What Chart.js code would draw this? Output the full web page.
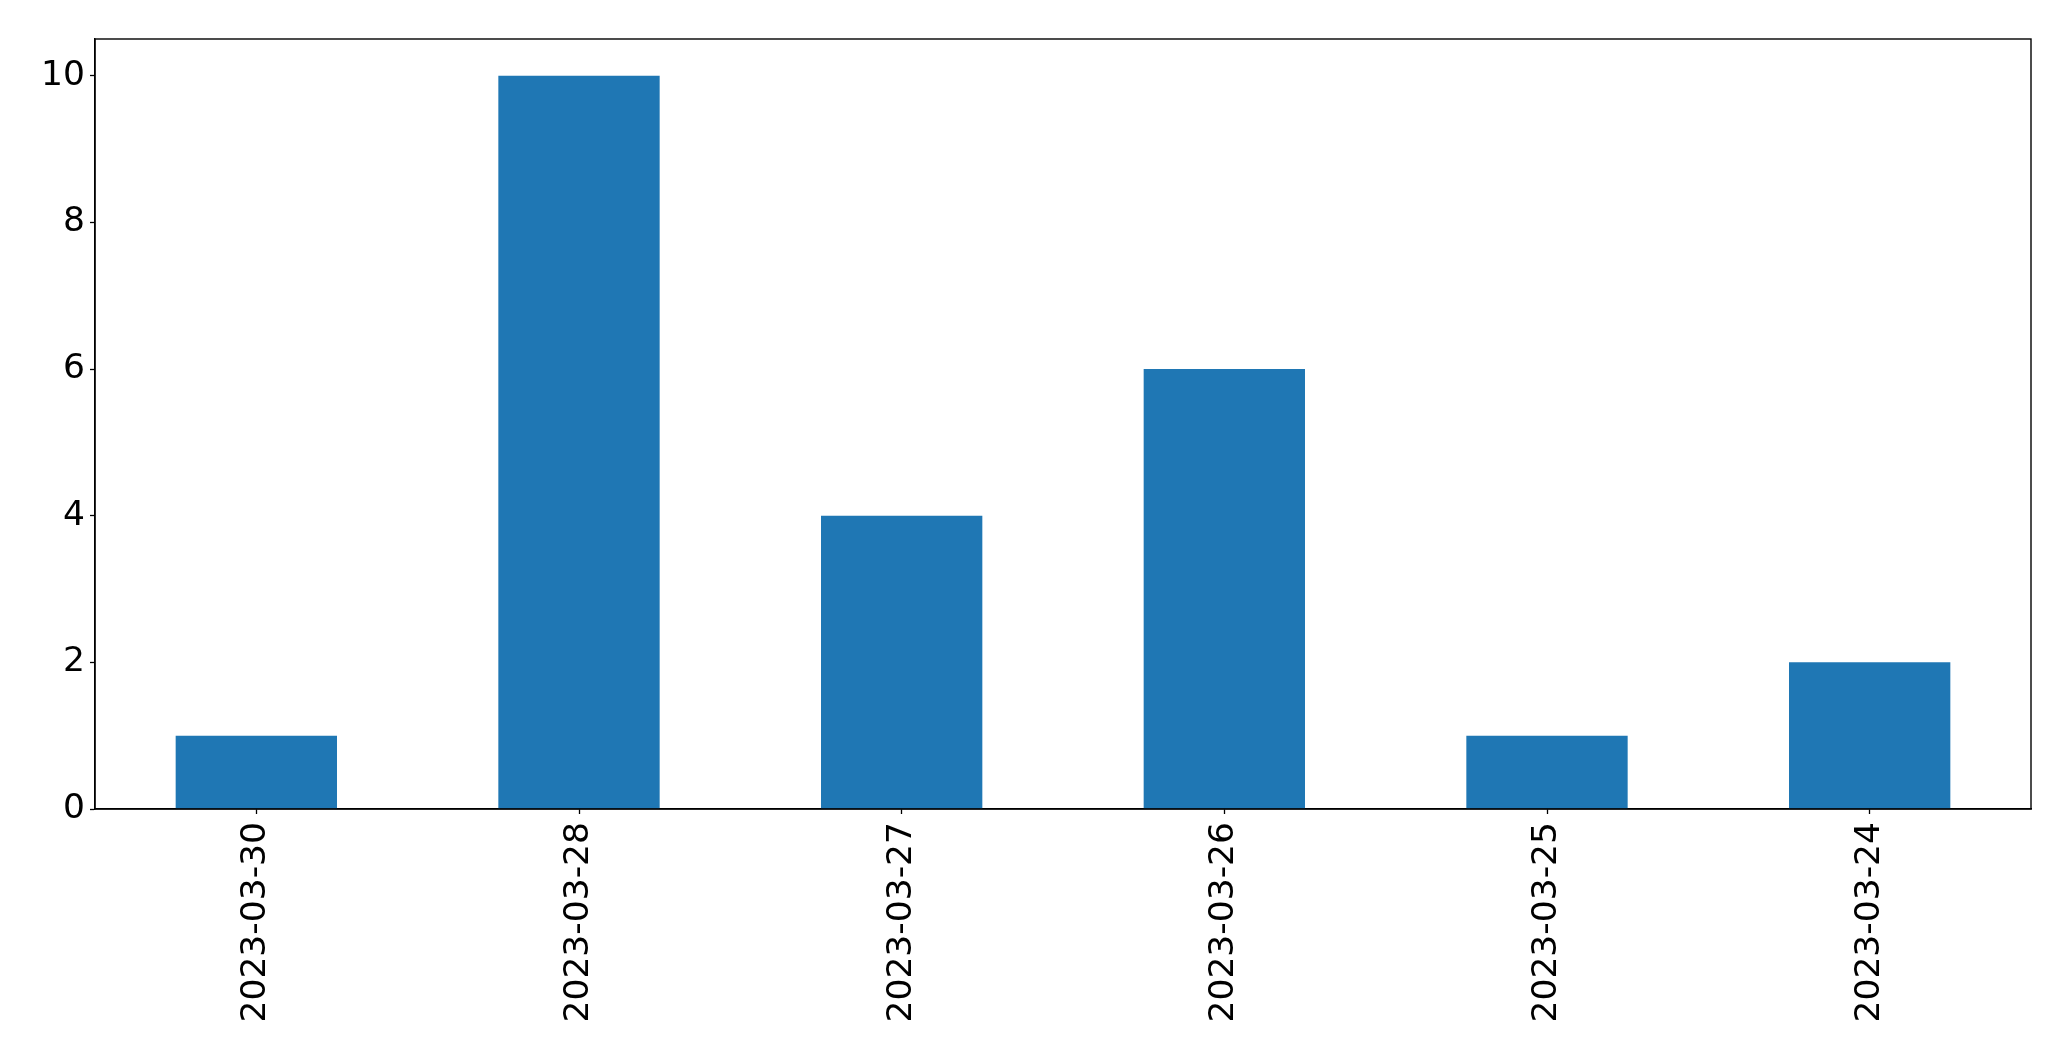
<!DOCTYPE html>
<html>
<head>
<meta charset="utf-8">
<script src="https://cdn.jsdelivr.net/npm/chart.js@4/dist/chart.umd.min.js"></script>
<style>
html,body{margin:0;padding:0;background:#fff;}
canvas{display:block;}
</style>
</head>
<body>
<canvas id="c" width="2071" height="1061"></canvas>
<script>
const categories = ["2023-03-30", "2023-03-28", "2023-03-27", "2023-03-26", "2023-03-25", "2023-03-24"];
const counts = [1, 10, 4, 6, 1, 2];
const yTicks = [0, 2, 4, 6, 8, 10];

const frame = {
  id: 'frame',
  afterDraw(chart) {
    const a = chart.chartArea, ctx = chart.ctx;
    ctx.save();
    ctx.strokeStyle = '#000';
    ctx.lineWidth = 1.4;
    ctx.strokeRect(a.left, a.top, a.right - a.left, a.bottom - a.top);
    ctx.restore();
  }
};

new Chart(document.getElementById('c'), {
  type: 'bar',
  data: {
    labels: categories,
    datasets: [{
      data: counts,
      backgroundColor: '#1f77b4',
      borderWidth: 0,
      barPercentage: 0.5,
      categoryPercentage: 1.0
    }]
  },
  options: {
    responsive: false,
    animation: false,
    devicePixelRatio: 1,
    layout: { padding: { left: 0, top: 39, right: 40, bottom: 0 } },
    plugins: { legend: { display: false }, tooltip: { enabled: false } },
    scales: {
      x: {
        offset: true,
        grid: { display: true, drawOnChartArea: false, tickLength: 5, tickColor: '#000', tickWidth: 1.3, offset: false },
        border: { display: true, color: '#000', width: 1.4 },
        ticks: {
          color: '#000',
          font: { family: 'DejaVu Sans', size: 34.5 },
          minRotation: 90, maxRotation: 90,
          padding: 8,
          autoSkip: false
        },
        afterFit(s) { s.height = 252; }
      },
      y: {
        min: 0, max: 10.5,
        afterBuildTicks(s) { s.ticks = yTicks.map(v => ({ value: v })); },
        grid: { display: true, drawOnChartArea: false, tickLength: 5, tickColor: '#000', tickWidth: 1.3 },
        border: { display: true, color: '#000', width: 1.4 },
        ticks: {
          color: '#000',
          font: { family: 'DejaVu Sans', size: 34.5 },
          padding: 5
        },
        afterFit(s) { s.width = 95; }
      }
    }
  },
  plugins: [frame]
});
</script>
</body>
</html>
